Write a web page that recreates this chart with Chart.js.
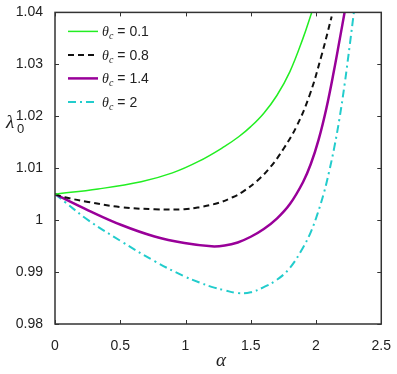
<!DOCTYPE html>
<html>
<head>
<meta charset="utf-8">
<script src="https://cdn.jsdelivr.net/npm/chart.js@4"></script>
<style>
  html, body { margin: 0; padding: 0; background: #fff; }
</style>
</head>
<body>
<canvas id="chart" width="397" height="374"></canvas>
<script>
// values
const thetaLabels = ["0.1", "0.8", "1.4", "2"];

const alphaGreen = [0, 0.33, 0.66, 0.9, 1.1, 1.3, 1.41, 1.5, 1.6, 1.7, 1.8, 1.9, 1.967];
const lambdaGreen = [1.005, 1.006, 1.0074, 1.0091, 1.0113, 1.0142, 1.0161, 1.018, 1.0206, 1.024, 1.0286, 1.035, 1.04];

const alphaBlack = [0, 0.076, 0.254, 0.509, 0.763, 0.99, 1.107, 1.25, 1.361, 1.435, 1.55, 1.65, 1.75, 1.85, 1.95, 2.04, 2.12];
const lambdaBlack = [1.005, 1.0044, 1.0035, 1.0025, 1.0021, 1.0021, 1.0025, 1.0033, 1.0044, 1.0054, 1.0076, 1.0102, 1.0137, 1.018, 1.024, 1.0315, 1.0392];

const alphaPurple = [0, 0.254, 0.509, 0.763, 0.992, 1.2, 1.3, 1.4, 1.5, 1.6, 1.7, 1.8, 1.9, 1.96, 2.02, 2.08, 2.137, 2.183, 2.221];
const lambdaPurple = [1.005, 1.0019, 0.99906, 0.99685, 0.99558, 0.99495, 0.9951, 0.9957, 0.9968, 0.9983, 1.0003, 1.0031, 1.0073, 1.0108, 1.0155, 1.0216, 1.0287, 1.035, 1.0403];

const alphaCyan = [0, 0.076, 0.254, 0.509, 0.763, 0.98, 1.107, 1.2, 1.3, 1.4, 1.5, 1.6, 1.7, 1.8, 1.9, 1.96, 2.01, 2.06, 2.1, 2.14, 2.18, 2.22, 2.26, 2.29];
const lambdaCyan = [1.005, 1.0035, 1.0, 0.9959, 0.9921, 0.9893, 0.988, 0.98715, 0.9865, 0.98595, 0.9861, 0.9871, 0.9885, 0.9908, 0.9947, 0.9977, 1.0011, 1.0052, 1.0093, 1.014, 1.0196, 1.0263, 1.034, 1.04];

const xTicks = [0, 0.5, 1, 1.5, 2, 2.5];
const yTicks = [0.98, 0.99, 1, 1.01, 1.02, 1.03, 1.04];

const toPoints = (xs, ys) => xs.map((x, i) => ({ x: x, y: ys[i] }));

const axisColor = "#333";

// draws the closed box, inward tick marks, custom legend and axis titles
const framePlugin = {
  id: "frame",
  afterDraw(chart) {
    const ctx = chart.ctx;
    const area = chart.chartArea;
    const xs = chart.scales.x;
    const ys = chart.scales.y;
    ctx.save();
    ctx.strokeStyle = axisColor;
    ctx.lineWidth = 1.5;
    ctx.strokeRect(area.left, area.top, area.right - area.left, area.bottom - area.top);
    ctx.lineWidth = 1;
    const tl = 4;
    xTicks.forEach((v) => {
      const px = Math.round(xs.getPixelForValue(v)) + 0.5;
      ctx.beginPath();
      ctx.moveTo(px, area.bottom);
      ctx.lineTo(px, area.bottom - tl);
      ctx.moveTo(px, area.top);
      ctx.lineTo(px, area.top + tl);
      ctx.stroke();
    });
    yTicks.forEach((v) => {
      const py = Math.round(ys.getPixelForValue(v)) + 0.5;
      ctx.beginPath();
      ctx.moveTo(area.left, py);
      ctx.lineTo(area.left + tl, py);
      ctx.moveTo(area.right, py);
      ctx.lineTo(area.right - tl, py);
      ctx.stroke();
    });

    // legend
    const lx = area.left + 13;
    const ly = area.top + 19;
    const rowH = 23.5;
    chart.data.datasets.forEach((ds, i) => {
      const y = ly + i * rowH;
      ctx.strokeStyle = ds.borderColor;
      ctx.lineWidth = ds.borderWidth;
      ctx.setLineDash(ds.borderDash || []);
      ctx.beginPath();
      ctx.moveTo(lx, y);
      ctx.lineTo(lx + 30, y);
      ctx.stroke();
      ctx.setLineDash([]);
      ctx.fillStyle = "#222";
      ctx.textBaseline = "alphabetic";
      ctx.textAlign = "left";
      let tx = lx + 34;
      ctx.font = "italic 14px 'Liberation Serif'";
      ctx.fillText("θ", tx, y + 5);
      tx += ctx.measureText("θ").width;
      ctx.font = "italic 10px 'Liberation Serif'";
      ctx.fillText("c", tx, y + 8);
      tx += ctx.measureText("c").width + 4;
      ctx.font = "14px 'Liberation Sans'";
      ctx.fillText("= " + thetaLabels[i], tx, y + 5);
    });

    // axis titles
    ctx.fillStyle = "#222";
    ctx.font = "italic 19px 'Liberation Serif'";
    ctx.textAlign = "center";
    ctx.fillText("α", 221, 366);
    ctx.textAlign = "left";
    ctx.fillText("λ", 6, 128);
    ctx.font = "13px 'Liberation Sans'";
    ctx.fillText("0", 17, 133);
    ctx.restore();
  },
};

const chart = new Chart(document.getElementById("chart").getContext("2d"), {
  type: "line",
  data: {
    datasets: [
      {
        label: "θc = " + thetaLabels[0],
        data: toPoints(alphaGreen, lambdaGreen),
        borderColor: "#22ee22",
        borderWidth: 1.5,
      },
      {
        label: "θc = " + thetaLabels[1],
        data: toPoints(alphaBlack, lambdaBlack),
        borderColor: "#111",
        borderWidth: 2,
        borderDash: [6, 4],
      },
      {
        label: "θc = " + thetaLabels[2],
        data: toPoints(alphaPurple, lambdaPurple),
        borderColor: "#990099",
        borderWidth: 2.5,
      },
      {
        label: "θc = " + thetaLabels[3],
        data: toPoints(alphaCyan, lambdaCyan),
        borderColor: "#22cccc",
        borderWidth: 2,
        borderDash: [8, 4, 2, 4],
      },
    ],
  },
  options: {
    responsive: false,
    animation: false,
    devicePixelRatio: 1,
    layout: { padding: { top: 7, right: 15, left: 0, bottom: 0 } },
    elements: {
      point: { radius: 0 },
      line: { tension: 0.4, fill: false },
    },
    plugins: {
      legend: { display: false },
      tooltip: { enabled: false },
    },
    scales: {
      x: {
        type: "linear",
        min: 0,
        max: 2.5,
        afterFit: (s) => { s.height = 50; },
        afterBuildTicks: (s) => { s.ticks = xTicks.map((v) => ({ value: v })); },
        grid: { display: false },
        border: { display: false },
        ticks: {
          padding: 6,
          color: "#222",
          font: { family: "'Liberation Sans'", size: 14 },
          callback: (v) => String(v),
        },
      },
      y: {
        type: "linear",
        min: 0.98,
        max: 1.04,
        afterFit: (s) => { s.width = 55; },
        afterBuildTicks: (s) => { s.ticks = yTicks.map((v) => ({ value: v })); },
        grid: { display: false },
        border: { display: false },
        ticks: {
          padding: 4,
          color: "#222",
          font: { family: "'Liberation Sans'", size: 14 },
          callback: (v) => String(Number(v.toFixed(2))),
        },
      },
    },
  },
  plugins: [framePlugin],
});
</script>
</body>
</html>
